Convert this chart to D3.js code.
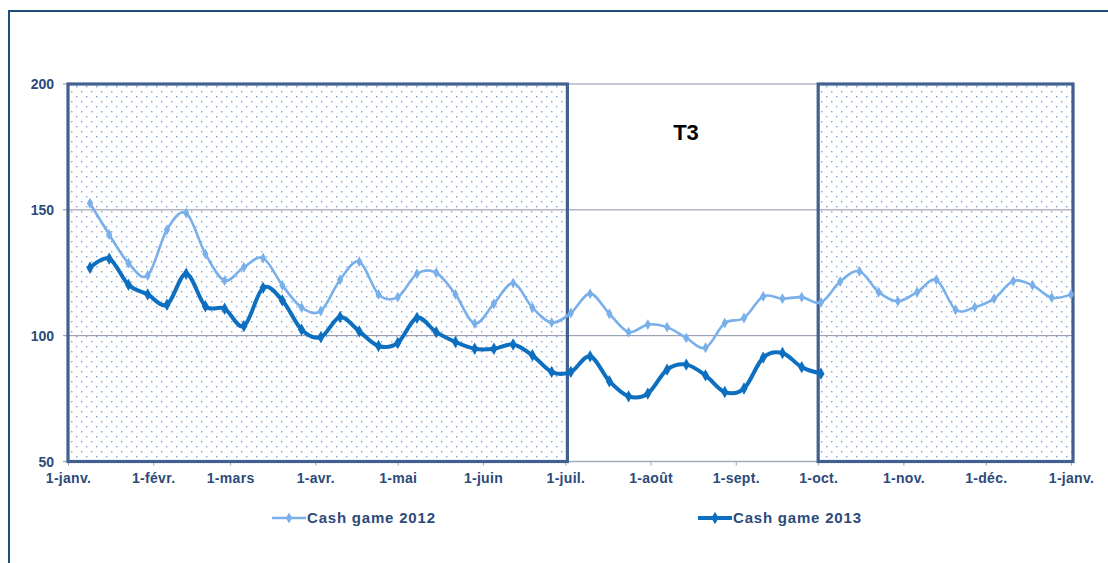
<!DOCTYPE html>
<html lang="fr">
<head>
<meta charset="UTF-8">
<title>Cash game</title>
<script src="https://cdn.jsdelivr.net/npm/d3@7"></script>
<style>
  body { margin: 0; background: #fff; }
  text { font-family: "Liberation Sans", Arial, sans-serif; }
</style>
</head>
<body>
<svg width="1108" height="563"></svg>
<script>
// valeurs hebdomadaires
var cash2012 = [152.6, 140.2, 128.8, 123.9, 142.1, 148.7, 132.5, 121.9, 127.2, 130.8,
  120.0, 111.2, 109.8, 122.2, 129.4, 116.4, 115.3, 124.6, 125.0, 116.4,
  104.8, 112.7, 120.9, 111.1, 105.2, 109.0, 116.7, 108.7, 101.4, 104.4,
  103.4, 99.1, 95.2, 105.0, 107.0, 115.6, 114.7, 115.3, 113.2, 121.5,
  125.6, 117.3, 113.7, 117.3, 122.2, 110.3, 111.3, 114.7, 121.7, 120.0,
  115.1, 116.4];
var cash2013 = [127.0, 130.6, 120.2, 116.4, 112.3, 124.6, 111.7, 110.7, 103.8, 119.0,
  114.0, 102.4, 99.4, 107.4, 101.7, 95.9, 97.1, 107.1, 101.4, 97.5,
  94.8, 94.8, 96.5, 92.2, 85.6, 85.6, 91.8, 81.9, 75.9, 77.0,
  86.5, 88.5, 84.2, 77.6, 79.0, 91.3, 93.1, 87.5, 84.9];
var monthLabels = ['1-janv.', '1-févr.', '1-mars', '1-avr.', '1-mai', '1-juin', '1-juil.',
  '1-août', '1-sept.', '1-oct.', '1-nov.', '1-déc.', '1-janv.'];
var yTicks = [50, 100, 150, 200];
var seriesNames = ['Cash game 2012', 'Cash game 2013'];

// une semaine par point, à partir du 9 janvier
var weeks = d3.timeDay.range(new Date(2013, 0, 9), new Date(2014, 0, 2), 7);

var svg = d3.select('svg');

var x = d3.scaleTime()
  .domain([new Date(2013, 0, 1), new Date(2014, 0, 1)])
  .range([68, 1071]);
var y = d3.scaleLinear().domain([50, 200]).range([461.5, 84]);

// motif pointillé
var pat = svg.append('defs').append('pattern')
  .attr('id', 'dots')
  .attr('width', 10).attr('height', 10)
  .attr('patternUnits', 'userSpaceOnUse');
pat.append('rect').attr('width', 10).attr('height', 10).attr('fill', '#fff');
pat.append('rect').attr('x', 1).attr('y', 1).attr('width', 1.4).attr('height', 1.4).attr('fill', '#7fa2d6');
pat.append('rect').attr('x', 6).attr('y', 6).attr('width', 1.4).attr('height', 1.4).attr('fill', '#7fa2d6');

// cadre extérieur
svg.append('path')
  .attr('d', 'M9,563V11H1108')
  .attr('fill', 'none')
  .attr('stroke', '#1f4e79')
  .attr('stroke-width', 2);

var boxes = [
  [new Date(2013, 0, 1), new Date(2013, 6, 1)],
  [new Date(2013, 9, 1), new Date(2014, 0, 1)]
];

svg.selectAll('rect.zone')
  .data(boxes)
  .enter()
  .append('rect')
  .attr('class', 'zone')
  .attr('x', function (d) { return x(d[0]); })
  .attr('y', y(200))
  .attr('width', function (d) { return x(d[1]) - x(d[0]) + 2; })
  .attr('height', y(50) - y(200))
  .attr('fill', 'url(#dots)');

// grille
svg.selectAll('line.grid')
  .data(yTicks)
  .enter()
  .append('line')
  .attr('class', 'grid')
  .attr('x1', x.range()[0] - 5)
  .attr('x2', x.range()[1] + 3)
  .attr('y1', function (d) { return y(d); })
  .attr('y2', function (d) { return y(d); })
  .attr('stroke', function (d) { return d === 50 ? '#a3abc0' : '#8b90a8'; })
  .attr('stroke-width', function (d) { return d === 50 ? 1.5 : 1; });

svg.selectAll('text.ylab')
  .data(yTicks)
  .enter()
  .append('text')
  .attr('class', 'ylab')
  .attr('x', 54)
  .attr('y', function (d) { return y(d) + 5; })
  .attr('text-anchor', 'end')
  .attr('font-size', 14)
  .attr('font-weight', 'bold')
  .attr('fill', '#2c4a7a')
  .text(function (d) { return d; });

// axe des x
var axisX = d3.axisBottom(x)
  .ticks(d3.timeMonth.every(1))
  .tickSize(4)
  .tickFormat(function (d, i) { return monthLabels[i]; });

var gx = svg.append('g')
  .attr('transform', 'translate(0,' + y(50) + ')')
  .call(axisX);
gx.select('.domain').remove();
gx.selectAll('.tick line').attr('stroke', '#9aa3b8');
gx.selectAll('.tick text')
  .attr('y', 16)
  .attr('dy', '0.36em')
  .attr('font-size', 14)
  .attr('font-weight', 'bold')
  .attr('letter-spacing', 0.3)
  .attr('font-family', '"Liberation Sans", Arial, sans-serif')
  .attr('fill', '#2c4a7a');

// bordures épaisses des zones
svg.selectAll('rect.zoneBorder')
  .data(boxes)
  .enter()
  .append('rect')
  .attr('class', 'zoneBorder')
  .attr('x', function (d) { return x(d[0]); })
  .attr('y', y(200))
  .attr('width', function (d) { return x(d[1]) - x(d[0]) + 2; })
  .attr('height', y(50) - y(200))
  .attr('fill', 'none')
  .attr('stroke', '#41608f')
  .attr('stroke-width', 3.2);

svg.append('text')
  .attr('x', 686)
  .attr('y', 140)
  .attr('text-anchor', 'middle')
  .attr('font-family', '"Open Sans", sans-serif')
  .attr('font-size', 22)
  .attr('font-weight', 'bold')
  .attr('fill', '#000')
  .text('T3');

// courbes
var series = [
  { name: seriesNames[0], values: cash2012, color: '#79b0ea', width: 2.6, size: 34 },
  { name: seriesNames[1], values: cash2013, color: '#0c6fbf', width: 4, size: 44 }
];

var line = d3.line()
  .x(function (d, i) { return x(weeks[i]); })
  .y(function (d) { return y(d); })
  .curve(d3.curveCardinal.tension(0));

series.forEach(function (s) {
  svg.append('path')
    .datum(s.values)
    .attr('d', line)
    .attr('fill', 'none')
    .attr('stroke', s.color)
    .attr('stroke-width', s.width)
    .attr('stroke-linejoin', 'round');

  svg.append('g')
    .selectAll('path')
    .data(s.values)
    .enter()
    .append('path')
    .attr('transform', function (d, i) { return 'translate(' + x(weeks[i]) + ',' + y(d) + ')'; })
    .attr('d', d3.symbol().type(d3.symbolDiamond).size(s.size))
    .attr('fill', s.color);
});

// légende
var legendX = [272, 698];
var legend = svg.selectAll('g.legend')
  .data(series)
  .enter()
  .append('g')
  .attr('class', 'legend')
  .attr('transform', function (d, i) { return 'translate(' + legendX[i] + ',518)'; });

legend.append('line')
  .attr('x1', 0).attr('x2', 34)
  .attr('stroke', function (d) { return d.color; })
  .attr('stroke-width', function (d) { return d.width; });
legend.append('path')
  .attr('transform', 'translate(17,0)')
  .attr('d', function (d) { return d3.symbol().type(d3.symbolDiamond).size(d.size)(); })
  .attr('fill', function (d) { return d.color; });
legend.append('text')
  .attr('x', 35)
  .attr('y', 5)
  .attr('font-size', 15)
  .attr('font-weight', 'bold')
  .attr('letter-spacing', 0.8)
  .attr('fill', '#2c4a7a')
  .text(function (d) { return d.name; });
</script>
</body>
</html>
